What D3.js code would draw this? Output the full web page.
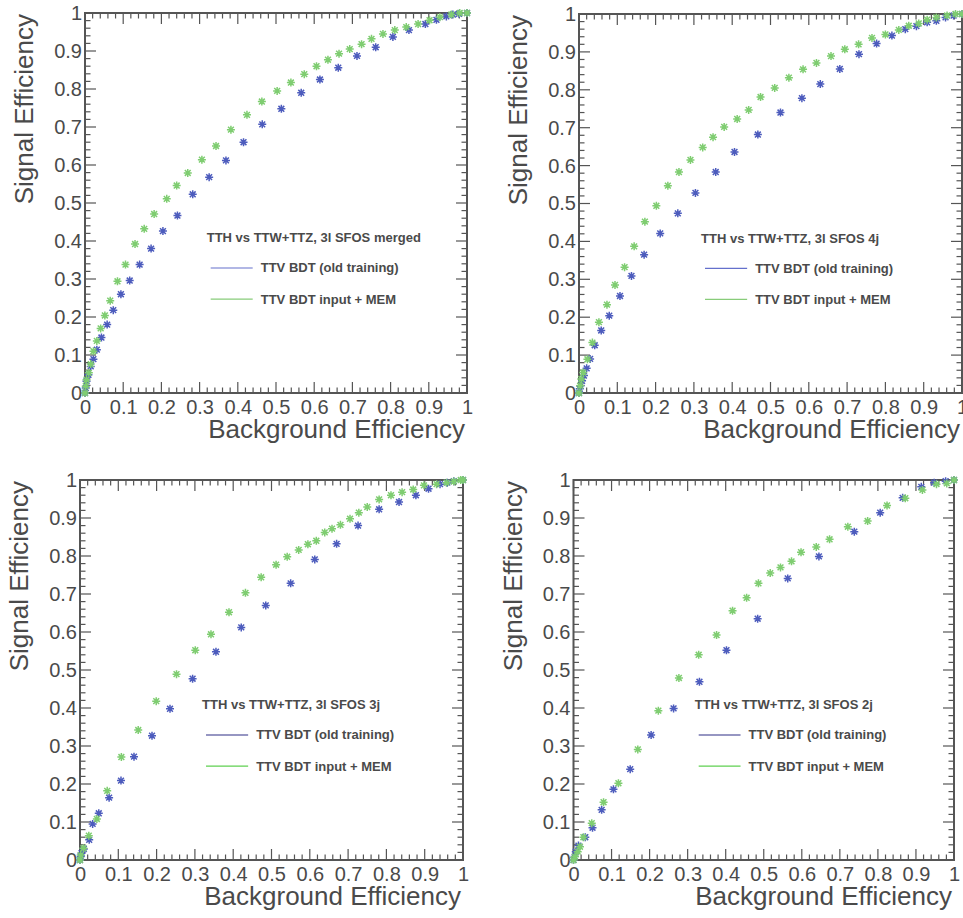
<!DOCTYPE html>
<html><head><meta charset="utf-8">
<script src="https://cdn.jsdelivr.net/npm/d3@7/dist/d3.min.js"></script>
<style>body{margin:0;background:#fff}svg{display:block}text{font-family:"Liberation Sans",Arial,sans-serif}</style>
</head><body>
<script>
// ---- data ----
const titles = ["TTH vs TTW+TTZ, 3l SFOS merged","TTH vs TTW+TTZ, 3l SFOS 4j","TTH vs TTW+TTZ, 3l SFOS 3j","TTH vs TTW+TTZ, 3l SFOS 2j"];
const seriesNames = ["TTV BDT (old training)","TTV BDT input + MEM"];
const xTicks = [0,0.1,0.2,0.3,0.4,0.5,0.6,0.7,0.8,0.9,1];
const yTicks = [0,0.1,0.2,0.3,0.4,0.5,0.6,0.7,0.8,0.9,1];
const xLabel = "Background Efficiency";
const yLabel = "Signal Efficiency";

const merged_old = [[1,1],[0.979,0.998],[0.963,0.996],[0.946,0.991],[0.920,0.982],[0.891,0.971],[0.848,0.955],[0.806,0.937],[0.761,0.910],[0.712,0.887],[0.663,0.856],[0.615,0.825],[0.566,0.790],[0.514,0.748],[0.464,0.707],[0.415,0.660],[0.369,0.612],[0.325,0.568],[0.282,0.523],[0.242,0.467],[0.204,0.426],[0.173,0.380],[0.143,0.338],[0.117,0.296],[0.094,0.260],[0.074,0.218],[0.058,0.180],[0.043,0.146],[0.031,0.114],[0.022,0.089],[0.015,0.070],[0.009,0.048],[0.004,0.031],[0.002,0.013],[0,0]];
const merged_mem = [[1,1],[0.981,1.0],[0.959,0.996],[0.929,0.989],[0.902,0.981],[0.872,0.971],[0.841,0.963],[0.811,0.955],[0.780,0.945],[0.750,0.932],[0.724,0.918],[0.693,0.905],[0.665,0.893],[0.636,0.877],[0.606,0.860],[0.574,0.839],[0.539,0.817],[0.503,0.795],[0.463,0.767],[0.424,0.732],[0.382,0.693],[0.343,0.650],[0.306,0.614],[0.269,0.579],[0.240,0.546],[0.214,0.511],[0.181,0.471],[0.155,0.432],[0.131,0.392],[0.106,0.338],[0.085,0.294],[0.066,0.243],[0.052,0.204],[0.041,0.170],[0.031,0.137],[0.022,0.110],[0.015,0.076],[0.010,0.053],[0.004,0.035],[0.002,0.018],[0,0]];
const j4_old = [[1,1],[0.978,0.996],[0.957,0.991],[0.933,0.982],[0.909,0.978],[0.881,0.968],[0.852,0.960],[0.817,0.943],[0.777,0.922],[0.731,0.894],[0.681,0.855],[0.630,0.815],[0.582,0.778],[0.526,0.740],[0.467,0.682],[0.406,0.636],[0.357,0.583],[0.304,0.528],[0.258,0.474],[0.212,0.421],[0.170,0.365],[0.137,0.309],[0.107,0.256],[0.079,0.204],[0.058,0.165],[0.041,0.126],[0.029,0.090],[0.020,0.065],[0.013,0.046],[0.008,0.032],[0.004,0.019],[0.002,0.011],[0,0]];
const j4_mem = [[1,1],[0.983,1.0],[0.961,0.996],[0.933,0.991],[0.909,0.985],[0.887,0.975],[0.861,0.969],[0.835,0.958],[0.800,0.946],[0.765,0.937],[0.730,0.920],[0.694,0.907],[0.658,0.889],[0.620,0.871],[0.585,0.854],[0.548,0.832],[0.511,0.805],[0.474,0.781],[0.443,0.747],[0.413,0.723],[0.379,0.702],[0.350,0.675],[0.323,0.648],[0.291,0.615],[0.261,0.583],[0.232,0.547],[0.202,0.494],[0.172,0.452],[0.144,0.387],[0.119,0.332],[0.094,0.285],[0.073,0.233],[0.052,0.187],[0.035,0.133],[0.022,0.089],[0.011,0.054],[0.006,0.037],[0.003,0.019],[0,0]];
const j3_old = [[1,1],[0.976,0.997],[0.959,0.993],[0.940,0.989],[0.910,0.977],[0.877,0.960],[0.833,0.942],[0.781,0.923],[0.726,0.880],[0.670,0.832],[0.613,0.791],[0.550,0.728],[0.485,0.670],[0.421,0.612],[0.355,0.548],[0.294,0.477],[0.235,0.398],[0.188,0.327],[0.141,0.272],[0.107,0.209],[0.076,0.164],[0.049,0.123],[0.033,0.095],[0.024,0.053],[0.010,0.029],[0.004,0.018],[0.002,0.009],[0,0]];
const j3_mem = [[1,1],[0.994,1.0],[0.976,0.996],[0.957,0.993],[0.931,0.989],[0.898,0.986],[0.870,0.975],[0.841,0.968],[0.812,0.960],[0.781,0.949],[0.750,0.929],[0.728,0.914],[0.705,0.898],[0.680,0.882],[0.658,0.872],[0.639,0.862],[0.617,0.840],[0.595,0.831],[0.571,0.816],[0.541,0.798],[0.512,0.777],[0.473,0.744],[0.432,0.703],[0.389,0.652],[0.342,0.594],[0.301,0.552],[0.252,0.489],[0.199,0.418],[0.152,0.342],[0.108,0.271],[0.071,0.182],[0.044,0.108],[0.023,0.064],[0.009,0.031],[0.002,0.013],[0,0]];
const j2_old = [[1,1],[0.978,0.997],[0.948,0.993],[0.914,0.982],[0.865,0.953],[0.806,0.914],[0.738,0.864],[0.645,0.799],[0.563,0.741],[0.484,0.635],[0.402,0.552],[0.331,0.469],[0.263,0.399],[0.204,0.329],[0.149,0.239],[0.105,0.186],[0.074,0.132],[0.050,0.085],[0.031,0.060],[0.013,0.038],[0.006,0.022],[0.003,0.009],[0,0]];
const j2_mem = [[1,1],[0.981,0.991],[0.954,0.989],[0.917,0.974],[0.872,0.952],[0.824,0.933],[0.773,0.892],[0.721,0.877],[0.673,0.844],[0.638,0.824],[0.598,0.810],[0.573,0.786],[0.544,0.770],[0.517,0.755],[0.486,0.728],[0.455,0.690],[0.418,0.656],[0.376,0.592],[0.329,0.540],[0.277,0.479],[0.223,0.393],[0.169,0.291],[0.118,0.202],[0.079,0.152],[0.048,0.097],[0.026,0.060],[0.017,0.035],[0.011,0.022],[0.004,0.009],[0,0]];

const panelData = [[merged_old,merged_mem],[j4_old,j4_mem],[j3_old,j3_mem],[j2_old,j2_mem]];

// ---- layout / style ----
const W = 963, H = 918;
const frames = [
  {x0:85, x1:467, y0:13, y1:393},
  {x0:579, x1:962, y0:14, y1:393},
  {x0:80, x1:463, y0:480, y1:860},
  {x0:573.5, x1:954, y0:480, y1:860}
];
const markerColors = ["#4d5cbd","#7fcd71"];
const legendColors = [["#6470cc","#88cc7a"],["#6470cc","#88cc7a"],["#2e2e86","#5fd050"],["#2e2e86","#5fd050"]];
const axisColor = "#555";
const textColor = "#4a4a4a";

const svg = d3.select("body").append("svg").attr("width",W).attr("height",H);
const star = "M-4,0H4M0,-4V4M-2.9,-2.9L2.9,2.9M-2.9,2.9L2.9,-2.9";

frames.forEach((f,i)=>{
  const g = svg.append("g");
  const x = d3.scaleLinear().domain([0,1]).range([f.x0,f.x1]);
  const y = d3.scaleLinear().domain([0,1]).range([f.y1,f.y0]);
  const minor = d3.range(0,1.0001,0.02);

  // ticks (inward, all four sides)
  const tk = g.append("g").attr("stroke",axisColor).attr("stroke-width",1.2);
  minor.forEach(v=>{
    const isMajor = Math.abs(Math.round(v*10)-v*10)<1e-6;
    const L = isMajor?11:5.5;
    tk.append("line").attr("x1",x(v)).attr("x2",x(v)).attr("y1",f.y1).attr("y2",f.y1-L);
    tk.append("line").attr("x1",x(v)).attr("x2",x(v)).attr("y1",f.y0).attr("y2",f.y0+L);
    tk.append("line").attr("y1",y(v)).attr("y2",y(v)).attr("x1",f.x0).attr("x2",f.x0+L);
    tk.append("line").attr("y1",y(v)).attr("y2",y(v)).attr("x1",f.x1).attr("x2",f.x1-L);
  });
  // frame
  g.append("rect").attr("x",f.x0).attr("y",f.y0).attr("width",f.x1-f.x0).attr("height",f.y1-f.y0)
    .attr("fill","none").attr("stroke",axisColor).attr("stroke-width",2);

  // tick labels via d3 axes (lines hidden)
  const fmt = d=> d===0?"0":d===1?"1":d3.format(".1f")(d);
  const xa = g.append("g").attr("transform",`translate(0,${f.y1})`)
    .call(d3.axisBottom(x).tickValues(xTicks).tickFormat(fmt).tickSize(0).tickPadding(7));
  const ya = g.append("g").attr("transform",`translate(${f.x0},0)`)
    .call(d3.axisLeft(y).tickValues(yTicks).tickFormat(fmt).tickSize(0).tickPadding(3));
  [xa,ya].forEach(a=>{
    a.select(".domain").remove();
    a.selectAll("text").attr("font-size",20).attr("fill",textColor).attr("font-family","Liberation Sans, Arial, sans-serif");
  });

  // axis titles
  g.append("text").attr("x",f.x1-2).attr("y",f.y1+45).attr("text-anchor","end")
    .attr("font-size",26).attr("fill",textColor).text(xLabel);
  g.append("text").attr("transform",`translate(${f.x0-52},${f.y0+1}) rotate(-90)`).attr("text-anchor","end")
    .attr("font-size",26).attr("fill",textColor).text(yLabel);

  // markers
  panelData[i].forEach((pts,s)=>{
    g.append("g").selectAll("path").data(pts).enter().append("path")
      .attr("d",star).attr("transform",d=>`translate(${x(d[0])},${y(d[1])})`)
      .attr("stroke",markerColors[s]).attr("stroke-width",1.5).attr("fill","none");
  });

  // legend
  const fw = f.x1-f.x0, fh = f.y1-f.y0;
  g.append("text").attr("x",f.x0+0.3186*fw).attr("y",f.y0+0.603*fh)
    .attr("font-size",13).attr("font-weight","bold").attr("fill",textColor).text(titles[i]);
  [0.671,0.753].forEach((ry,s)=>{
    const yy = f.y0+ry*fh;
    g.append("line").attr("x1",f.x0+0.329*fw).attr("x2",f.x0+0.439*fw).attr("y1",yy).attr("y2",yy)
      .attr("stroke",legendColors[i][s]).attr("stroke-width",1.2);
    g.append("text").attr("x",f.x0+0.46*fw).attr("y",yy+4.5)
      .attr("font-size",13).attr("font-weight","bold").attr("fill",textColor).text(seriesNames[s]);
  });
});
</script>
</body></html>
